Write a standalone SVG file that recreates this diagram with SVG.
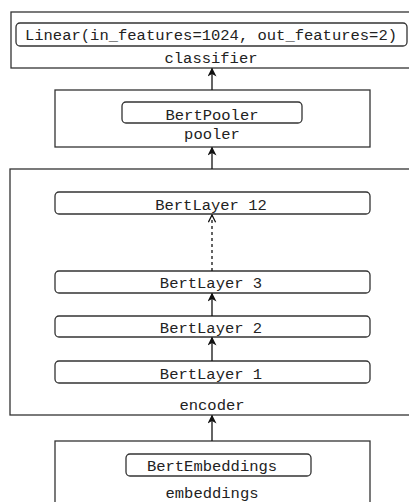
<svg xmlns="http://www.w3.org/2000/svg" width="409" height="502" viewBox="0 0 409 502">
  <style>
    .outer { fill: #ffffff; stroke: #333333; stroke-width: 1.3; }
    .inner { fill: #ffffff; stroke: #333333; stroke-width: 1.3; }
    .t { font-family: "Liberation Mono", "Courier New", monospace; font-size: 15.5px; fill: #222222; text-anchor: middle; }
    .edge { stroke: #111111; stroke-width: 1.3; fill: none; }
    .dash { stroke-dasharray: 3 3; }
  </style>
  <defs>
    <marker id="arrow" viewBox="0 0 10 10" refX="9" refY="5" markerWidth="9" markerHeight="9" markerUnits="userSpaceOnUse" orient="auto">
      <path d="M0,0 L10,5 L0,10 L3,5 Z" fill="#111111"/>
    </marker>
    <marker id="open" viewBox="0 0 10 10" refX="9" refY="5" markerWidth="9" markerHeight="9" markerUnits="userSpaceOnUse" orient="auto">
      <path d="M1,1 L9,5 L1,9" fill="none" stroke="#111111" stroke-width="1.4"/>
    </marker>
  </defs>

  <rect width="409" height="502" fill="#ffffff"/>

  <g id="classifier">
    <rect class="outer" x="11" y="12" width="410" height="56"/>
    <rect class="inner" x="16" y="23" width="391" height="23" rx="4"/>
    <text class="t" x="211" y="40">Linear(in_features=1024, out_features=2)</text>
    <text class="t" x="211" y="63">classifier</text>
  </g>

  <g id="pooler">
    <rect class="outer" x="55" y="90" width="315" height="57"/>
    <rect class="inner" x="122" y="102" width="180" height="21" rx="4"/>
    <text class="t" x="212" y="119.5">BertPooler</text>
    <text class="t" x="212" y="139">pooler</text>
  </g>

  <g id="encoder">
    <rect class="outer" x="10" y="169" width="410" height="246"/>
    <text class="t" x="212" y="410">encoder</text>
  </g>

  <g id="layer12">
    <rect class="inner" x="55" y="192" width="315" height="22" rx="4"/>
    <text class="t" x="211" y="209.5">BertLayer 12</text>
  </g>
  <g id="layer3">
    <rect class="inner" x="55" y="271" width="315" height="22" rx="4"/>
    <text class="t" x="211" y="288">BertLayer 3</text>
  </g>
  <g id="layer2">
    <rect class="inner" x="55" y="316" width="315" height="21" rx="4"/>
    <text class="t" x="211" y="333">BertLayer 2</text>
  </g>
  <g id="layer1">
    <rect class="inner" x="55" y="361" width="315" height="22" rx="4"/>
    <text class="t" x="211" y="378.5">BertLayer 1</text>
  </g>

  <g id="embeddings">
    <rect class="outer" x="55" y="441" width="315" height="70"/>
    <rect class="inner" x="126" y="454" width="185" height="22" rx="4"/>
    <text class="t" x="212" y="471">BertEmbeddings</text>
    <text class="t" x="212" y="498">embeddings</text>
  </g>

  <g id="connectors">
    <line class="edge" x1="212" y1="90" x2="212" y2="68.5" marker-end="url(#arrow)"/>
    <line class="edge" x1="212" y1="169" x2="212" y2="147.5" marker-end="url(#arrow)"/>
    <line class="edge" x1="212" y1="441" x2="212" y2="415.5" marker-end="url(#arrow)"/>
    <line class="edge" x1="212" y1="361" x2="212" y2="337.5" marker-end="url(#arrow)"/>
    <line class="edge" x1="212" y1="316" x2="212" y2="293.5" marker-end="url(#arrow)"/>
    <line class="edge dash" x1="212" y1="271" x2="212" y2="215" marker-end="url(#open)"/>
  </g>
</svg>
